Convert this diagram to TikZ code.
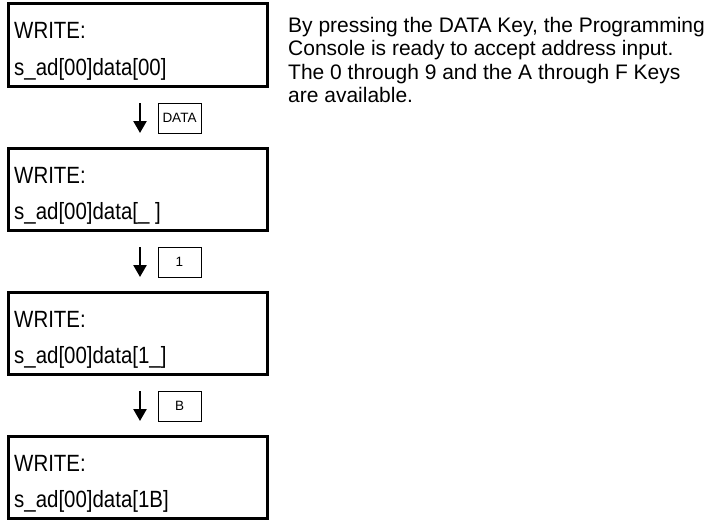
\documentclass[tikz,border=0pt]{standalone}
\usepackage{fontspec}
\setmainfont{Liberation Sans}
\newfontfamily\lcdfont[FakeStretch=0.87]{Liberation Sans}
\usetikzlibrary{arrows.meta}
\begin{document}
\begin{tikzpicture}[x=1pt,y=-1pt,
  lcdbox/.style={draw,line width=3pt,minimum width=259pt,minimum height=82pt,inner sep=0pt,outer sep=0pt},
  lcdtext/.style={anchor=base west,inner sep=0pt,font=\lcdfont\fontsize{23.5}{28}\selectfont},
  keybox/.style={draw,line width=1pt,minimum width=43pt,minimum height=30pt,inner sep=0pt,font=\fontsize{13.5}{16}\selectfont},
  steparrow/.style={line width=2.5pt,-{Triangle[width=13pt,length=12pt]}}]
\useasboundingbox (0,0) rectangle (714,519);

% screen 1 (top 4)
\node[lcdbox] (b1) at (138,45) {};
\node[lcdtext] (b1l1) at (14,39) {WRITE:};
\node[lcdtext] (b1l2) at (14,75) {s\_ad[00]data[00]};
\coordinate (a1s) at (140,103);
\coordinate (a1e) at (140,133);
\draw[steparrow] (a1s) -- (a1e);
\node[keybox] (k1) at (179.5,118) {DATA};

% screen 2 (top 148)
\node[lcdbox] (b2) at (138,189) {};
\node[lcdtext] (b2l1) at (14,183) {WRITE:};
\node[lcdtext] (b2l2) at (14,219) {s\_ad[00]data[\_\ ]};
\coordinate (a2s) at (140,247);
\coordinate (a2e) at (140,277);
\draw[steparrow] (a2s) -- (a2e);
\node[keybox] (k2) at (179.5,262) {1};

% screen 3 (top 292)
\node[lcdbox] (b3) at (138,333) {};
\node[lcdtext] (b3l1) at (14,327) {WRITE:};
\node[lcdtext] (b3l2) at (14,363) {s\_ad[00]data[1\_]};
\coordinate (a3s) at (140,391);
\coordinate (a3e) at (140,421);
\draw[steparrow] (a3s) -- (a3e);
\node[keybox] (k3) at (179.5,406) {B};

% screen 4 (top 436)
\node[lcdbox] (b4) at (138,477) {};
\node[lcdtext] (b4l1) at (14,471) {WRITE:};
\node[lcdtext] (b4l2) at (14,507) {s\_ad[00]data[1B]};

% description
\node[anchor=north west,inner sep=0pt,align=left,font=\fontsize{21}{23.5}\selectfont] (desc) at (288,16.7)
  {By pressing the DATA Key, the Programming\\
   Console is ready to accept address input.\\
   The 0 through 9 and the A through F Keys\\
   are available.};
\end{tikzpicture}
\end{document}
